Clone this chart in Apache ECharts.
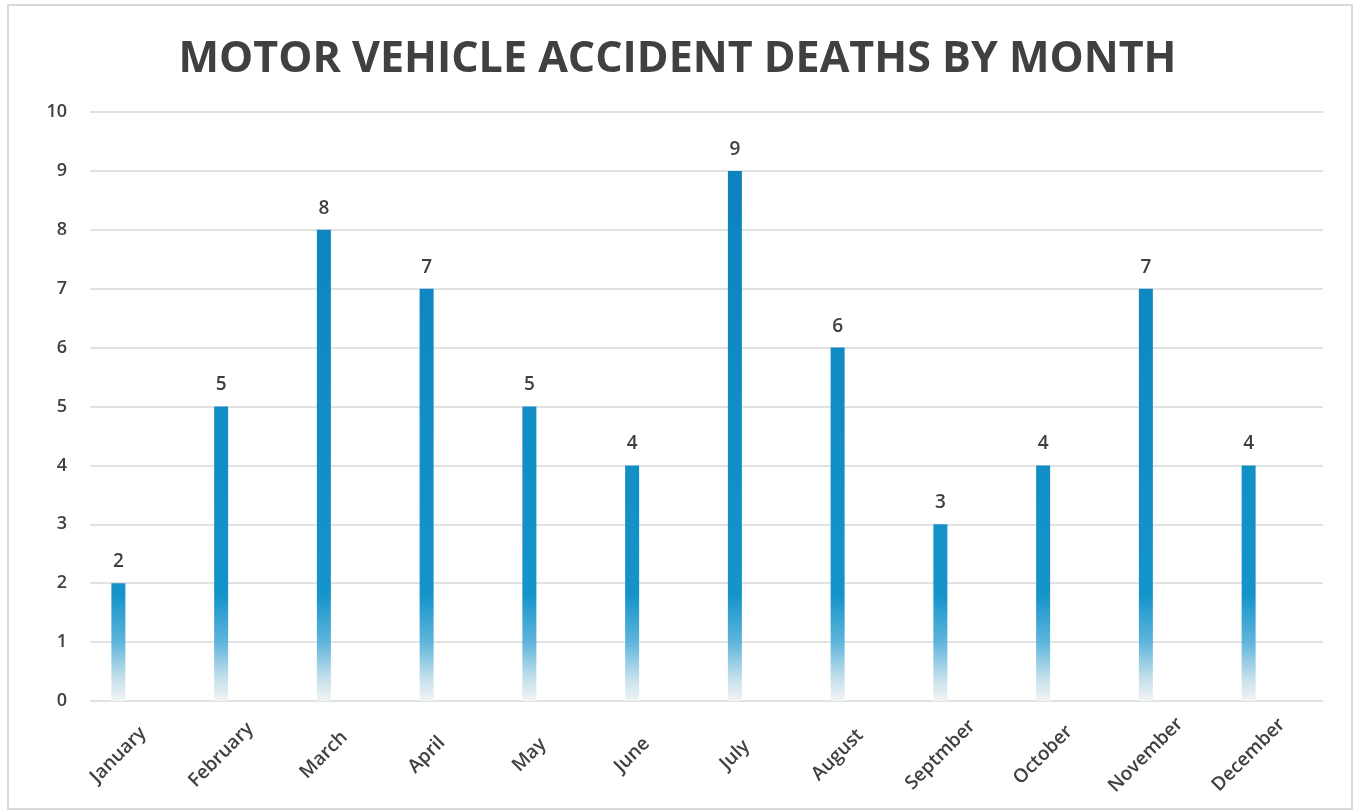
<!DOCTYPE html>
<html>
<head>
<meta charset="utf-8">
<script src="https://cdn.jsdelivr.net/npm/echarts@6/dist/echarts.min.js"></script>
<style>
  html, body { margin: 0; padding: 0; background: #fff; }
  #main { width: 1355px; height: 812px; }
</style>
</head>
<body>
<div id="main"></div>
<script>
  const months = ['January', 'February', 'March', 'April', 'May', 'June', 'July',
                  'August', 'Septmber', 'October', 'November', 'December'];
  const deaths = [2, 5, 8, 7, 5, 4, 9, 6, 3, 4, 7, 4];
  const yTicks = [0, 10, 1]; // min, max, interval

  const chart = echarts.init(document.getElementById('main'));

  // fade to white toward the baseline, in plot pixels
  const barColor = new echarts.graphic.LinearGradient(0, 112, 0, 701, [
    { offset: 0, color: '#0b80bd' },
    { offset: 0.82, color: '#1594ca' },
    { offset: 0.9, color: '#5fb5dc' },
    { offset: 0.96, color: '#c2dfeb' },
    { offset: 1, color: '#f2f4f4' }
  ], true);

  const txt = '#404040';
  const font = '"Open Sans", "Noto Sans", sans-serif';

  const option = {
    backgroundColor: '#fff',
    title: {
      text: 'MOTOR VEHICLE ACCIDENT DEATHS BY MONTH',
      left: 'center',
      top: 33,
      textStyle: { color: txt, fontSize: 43, fontWeight: 'bold', fontFamily: font }
    },
    graphic: [{
      type: 'rect',
      shape: { x: 8, y: 5, width: 1344, height: 804 },
      style: { fill: 'none', stroke: '#d9d9d9', lineWidth: 2 },
      silent: true
    }],
    grid: [
      { left: 90, right: 32, top: 112, bottom: 111 },
      { left: 67, right: 55, top: 112, bottom: 111 }
    ],
    xAxis: [
      {
        gridIndex: 0, type: 'category', data: months, show: false
      },
      {
        gridIndex: 1, type: 'category', data: months,
        axisLine: { show: false },
        axisTick: { show: false },
        axisLabel: {
          rotate: 45, align: 'center', verticalAlign: 'middle',
          color: txt, fontSize: 19, fontWeight: 600, fontFamily: font,
          margin: 54, interval: 0
        }
      }
    ],
    yAxis: [
      {
        gridIndex: 0, type: 'value', min: yTicks[0], max: yTicks[1], interval: yTicks[2],
        axisLine: { show: false },
        axisTick: { show: false },
        axisLabel: { color: txt, fontSize: 18, fontWeight: 600, fontFamily: font, margin: 23 },
        splitLine: { lineStyle: { color: '#d9d9d9', width: 1.5 } }
      },
      {
        gridIndex: 1, type: 'value', min: yTicks[0], max: yTicks[1], interval: yTicks[2],
        show: false, splitLine: { show: false }
      }
    ],
    series: [{
      type: 'bar',
      xAxisIndex: 1,
      yAxisIndex: 1,
      data: deaths,
      barWidth: 14,
      itemStyle: { color: barColor },
      label: {
        show: true, position: 'top', distance: 12,
        color: txt, fontSize: 19, fontWeight: 600, fontFamily: font
      }
    }]
  };

  chart.setOption(option);
</script>
</body>
</html>
